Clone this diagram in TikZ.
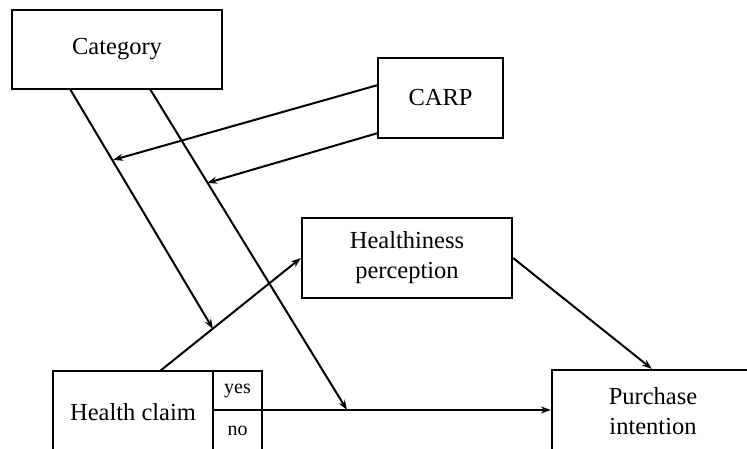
\documentclass[tikz,border=0pt]{standalone}
\usepackage{fontspec}
\setmainfont{Liberation Serif}
\usetikzlibrary{arrows.meta,calc}
\begin{document}
\begin{tikzpicture}[x=1pt,y=-1pt,
  box/.style={draw,line width=2.2pt,inner sep=0pt,align=center,font=\fontsize{24.5}{30}\selectfont},
  conn/.style={line width=2pt,-{Stealth[length=10pt,width=7pt]}},
  plain/.style={line width=2pt}]
\clip (0,0) rectangle (747,448);
\fill[white] (0,0) rectangle (747,448);
% nodes
\node[box,minimum width=210pt,minimum height=79pt] (cat) at (117,49.5) {Category};
\node[box,minimum width=125pt,minimum height=80pt] (carp) at (440.5,98) {CARP};
\node[box,minimum width=210pt,minimum height=80pt] (hp) at (407,258) {Healthiness\\perception};
\node[box,minimum width=202pt,minimum height=82pt] (pi) at (653,411) {Purchase\\intention};
\node[box,minimum width=160pt,minimum height=82pt] (hc) at (133,412) {Health claim};
\node[box,minimum width=49pt,minimum height=39pt,font=\fontsize{20}{24}\selectfont] (yes) at (237.5,390.5) {yes};
\node[box,minimum width=49pt,minimum height=42pt,font=\fontsize{20}{24}\selectfont] (no) at (237.5,431) {no};
% free-end coordinates
\coordinate (c1) at (70,89);
\coordinate (c2) at (150,89);
\coordinate (m1) at (213,329);
\coordinate (m2) at (347,410);
\coordinate (r1) at (378,85);
\coordinate (r2) at (378,133);
\coordinate (t1) at (113,160);
\coordinate (t2) at (207,183);
\coordinate (hcs) at (160,371);
\coordinate (yd) at (262,410);
% connectors
\draw[conn] (c1) -- (m1);
\draw[conn] (c2) -- (m2);
\draw[conn] (r1) -- (t1);
\draw[conn] (r2) -- (t2);
\draw[conn] (hcs) -- (hp.west);
\draw[conn] (hp.east) -- ($(pi.north west)+(101,0)$);
\draw[conn] (yd) -- (pi.west |- yd);
\end{tikzpicture}
\end{document}
